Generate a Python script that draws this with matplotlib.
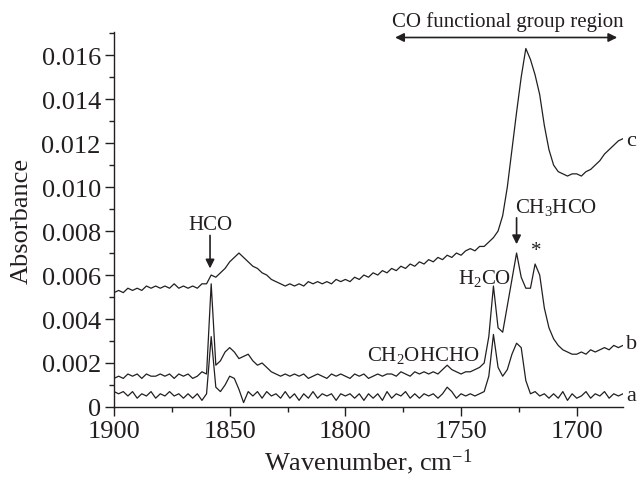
import matplotlib
matplotlib.use('Agg')
import matplotlib.pyplot as plt
import numpy as np
from matplotlib.ticker import MultipleLocator, FuncFormatter

plt.rcParams['font.family'] = ['Liberation Serif', 'DejaVu Serif']
plt.rcParams['mathtext.fontset'] = 'custom'
plt.rcParams['mathtext.rm'] = 'Liberation Serif'
plt.rcParams['mathtext.default'] = 'regular'

#region data
# wavenumber grid (cm^-1), 2 cm^-1 step from 1900 down to 1680
wn_start, wn_step = 1900, 2

# absorbance x 1e4, one line = 20 cm^-1
spec_a = [7, 6, 7, 5, 7, 4, 6, 5, 7, 4,
          6, 5, 7, 5, 6, 4, 6, 4, 6, 3,
          6, 32, 9, 7, 10, 14, 13, 8, 2, 7,
          5, 7, 4, 7, 5, 6, 4, 7, 4, 6,
          3, 6, 4, 7, 4, 6, 5, 6, 3, 6,
          5, 6, 4, 6, 3, 6, 4, 6, 3, 7,
          4, 6, 5, 7, 4, 6, 4, 6, 5, 6,
          4, 6, 9, 7, 4, 6, 5, 6, 5, 6,
          7, 14, 33, 18, 14, 17, 24, 29, 27, 12,
          6, 7, 5, 6, 4, 6, 4, 7, 3, 6,
          4, 5, 7, 4, 6, 5, 7, 4, 6, 5,
          6]
spec_b = [13, 14, 13, 15, 14, 15, 13, 15, 14, 14,
          15, 14, 15, 13, 15, 14, 15, 13, 14, 16,
          15, 56, 19, 21, 25, 27, 25, 22, 23, 24,
          21, 19, 20, 18, 16, 15, 14, 15, 14, 15,
          14, 15, 13, 14, 15, 14, 13, 15, 14, 15,
          14, 13, 15, 14, 15, 13, 14, 15, 14, 15,
          15, 14, 16, 15, 14, 16, 15, 16, 15, 16,
          15, 17, 19, 17, 16, 15, 16, 16, 17, 18,
          20, 32, 55, 36, 34, 46, 58, 70, 59, 54,
          54, 65, 60, 45, 36, 31, 28, 26, 25, 24,
          24, 25, 24, 26, 25, 26, 27, 26, 28, 27,
          28]
spec_c = [52, 53, 52, 54, 53, 54, 53, 55, 54, 55,
          54, 55, 54, 56, 54, 55, 54, 55, 54, 56,
          56, 60, 59, 61, 63, 66, 68, 70, 68, 66,
          64, 63, 61, 60, 58, 57, 56, 55, 56, 55,
          56, 55, 57, 56, 57, 56, 57, 56, 58, 57,
          58, 57, 59, 58, 60, 59, 61, 60, 62, 61,
          63, 62, 64, 63, 65, 64, 66, 65, 67, 66,
          68, 67, 69, 68, 70, 69, 71, 72, 71, 73,
          73, 75, 77, 80, 87, 100, 117, 134, 150, 163,
          158, 151, 142, 128, 117, 110, 107, 106, 105, 106,
          106, 105, 107, 108, 110, 112, 115, 117, 119, 121,
          122]
scale = 1e-4

y_ticks = [0, 0.002, 0.004, 0.006, 0.008, 0.010, 0.012, 0.014, 0.016]
x_ticks = [1900, 1850, 1800, 1750, 1700]
#endregion

#region plots
fig = plt.figure(figsize=(6.42, 4.81), dpi=100)
ax = fig.add_axes([0.1776, 0.1518, 0.7928, 0.7796])

for spec in (spec_a, spec_b, spec_c):
    y = np.array(spec) * scale
    x = wn_start - wn_step * np.arange(len(y))
    ax.plot(x, y, color='#231f20', lw=0.9)

ax.set_xlim(1900, 1680)
ax.set_ylim(0, 0.01705)

for s in ('top', 'right'):
    ax.spines[s].set_visible(False)
for s in ('left', 'bottom'):
    ax.spines[s].set_linewidth(1.0)
    ax.spines[s].set_color('#231f20')

ax.set_xticks(x_ticks)
ax.set_yticks(y_ticks)
ax.xaxis.set_minor_locator(MultipleLocator(25))
ax.yaxis.set_minor_locator(MultipleLocator(0.001))
ax.yaxis.set_major_formatter(FuncFormatter(lambda v, p: '0' if v == 0 else f'{v:.3f}'))
ax.tick_params(which='major', direction='out', length=6.5, width=1.0,
               labelsize=19, colors='#231f20', pad=3)
ax.tick_params(which='minor', direction='out', length=3.5, width=1.0, colors='#231f20')

ax.set_ylabel('Absorbance', fontsize=19, color='#231f20', labelpad=6)
ax.set_xlabel('Wavenumber, cm$^{\u22121}$', fontsize=19, color='#231f20', labelpad=3)

tc = '#231f20'
fs = 15
arrow = dict(arrowstyle='-|>', color=tc, lw=1.2, mutation_scale=13, shrinkA=0, shrinkB=0)

ax.annotate('', xy=(1858.5, 0.0063), xytext=(1858.5, 0.0078), arrowprops=arrow)
ax.text(1858.5, 0.0083, 'HCO', fontsize=fs, ha='center', va='center', color=tc)

ax.annotate('', xy=(1726, 0.0074), xytext=(1726, 0.0086), arrowprops=arrow)
ax.text(1709, 0.0091, 'CH$_3$HCO', fontsize=fs, ha='center', va='center', color=tc)

ax.text(1740, 0.0059, 'H$_2$CO', fontsize=fs, ha='center', va='center', color=tc)
ax.text(1717.3, 0.0071, '*', fontsize=fs, ha='center', va='center', color=tc)
ax.text(1766.5, 0.0024, 'CH$_2$OHCHO', fontsize=fs, ha='center', va='center', color=tc)

ax.text(1678.5, 0.0121, 'c', fontsize=fs + 1, ha='left', va='center', color=tc, clip_on=False)
ax.text(1678.5, 0.0029, 'b', fontsize=fs + 1, ha='left', va='center', color=tc, clip_on=False)
ax.text(1678.5, 0.0005, 'a', fontsize=fs + 1, ha='left', va='center', color=tc, clip_on=False)

ax.annotate('', xy=(1682.5, 0.0168), xytext=(1778.5, 0.0168),
            arrowprops=dict(arrowstyle='<|-|>', color=tc, lw=1.2, mutation_scale=13,
                            shrinkA=0, shrinkB=0), annotation_clip=False)
ax.text(1730, 0.01755, 'CO functional group region', fontsize=fs, ha='center',
        va='center', color=tc, clip_on=False)

fig.savefig('out.png', dpi=100)
#endregion
